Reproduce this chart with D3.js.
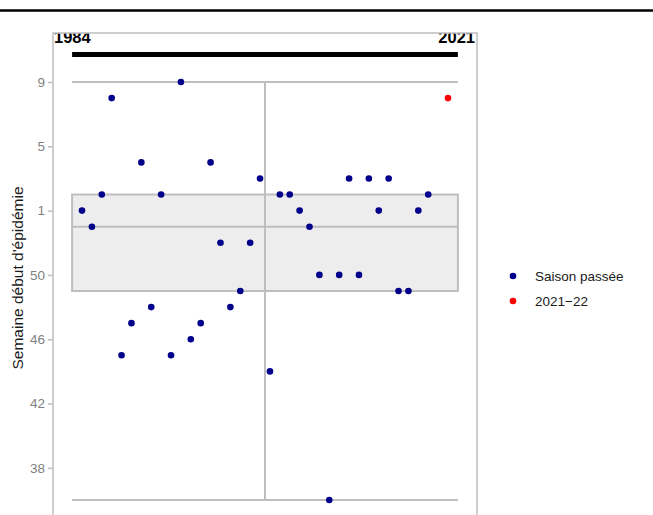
<!DOCTYPE html>
<html>
<head>
<meta charset="utf-8">
<script src="https://cdn.jsdelivr.net/npm/d3@7"></script>
<style>
  body { margin: 0; background: #fff; }
  text { font-family: "Liberation Sans", Arial, sans-serif; }
</style>
</head>
<body>
<div id="chart"></div>
<script>
// past seasons: year and start week (index: weeks after 53 are 54 = week 1, 55 = week 2 ...)
const years = [1984, 1985, 1986, 1987, 1988, 1989, 1990, 1991, 1992, 1993,
    1994, 1995, 1996, 1997, 1998, 1999, 2000, 2001, 2002, 2003,
    2004, 2005, 2006, 2007, 2008, 2009, 2010, 2011, 2012, 2013,
    2014, 2015, 2016, 2017, 2018, 2019];
const weeks = [54, 53, 55, 61, 45, 47, 57, 48, 55, 45,
    62, 46, 47, 57, 52, 48, 49, 52, 56, 44,
    55, 55, 54, 53, 50, 36, 50, 56, 50, 56,
    54, 56, 49, 49, 54, 55];

// current season
const currentYear = [2021];
const currentWeek = [61];

// box: min, q1, median, q3, max
const boxStats = [36, 49, 53, 55, 62];

const yTicks = [38, 42, 46, 50, 54, 58, 62];
const yTickLabels = ["38", "42", "46", "50", "1", "5", "9"];

const legendLabels = ["Saison passée", "2021\u221222"];
const legendColors = ["#00008B", "#FF0000"];

const width = 653, height = 515;
const panel = { left: 53, right: 477, top: 33, bottom: 520 };

const svg = d3.select("#chart").append("svg")
    .attr("width", width)
    .attr("height", height);

const x = d3.scaleLinear().domain([1984, 2021]).range([82, 448]);
const y = d3.scaleLinear().domain([36, 62]).range([500, 82]);

// top rule
svg.append("line")
    .attr("x1", 0).attr("x2", width)
    .attr("y1", 10.5).attr("y2", 10.5)
    .attr("stroke", "#000").attr("stroke-width", 2.5);

svg.append("clipPath").attr("id", "clip")
    .append("rect")
    .attr("x", panel.left).attr("y", panel.top)
    .attr("width", panel.right - panel.left)
    .attr("height", panel.bottom - panel.top);

const g = svg.append("g").attr("clip-path", "url(#clip)");

const grey = "#BEBEBE";

// whisker line
g.append("line")
    .attr("x1", x(2002.5)).attr("x2", x(2002.5))
    .attr("y1", y(boxStats[4])).attr("y2", y(boxStats[0]))
    .attr("stroke", grey).attr("stroke-width", 2);

// caps
[boxStats[0], boxStats[4]].forEach(v => {
    g.append("line")
        .attr("x1", x(1983)).attr("x2", x(2022))
        .attr("y1", y(v)).attr("y2", y(v))
        .attr("stroke", grey).attr("stroke-width", 2);
});

// box
g.append("rect")
    .attr("x", x(1983))
    .attr("y", y(boxStats[3]))
    .attr("width", x(2022) - x(1983))
    .attr("height", y(boxStats[1]) - y(boxStats[3]))
    .attr("fill", "#EBEBEB")
    .attr("fill-opacity", 0.92)
    .attr("stroke", grey).attr("stroke-width", 2);

// whisker visible through the box
g.append("line")
    .attr("x1", x(2002.5)).attr("x2", x(2002.5))
    .attr("y1", y(boxStats[3])).attr("y2", y(boxStats[1]))
    .attr("stroke", grey).attr("stroke-width", 2);

// median
g.append("line")
    .attr("x1", x(1983)).attr("x2", x(2022))
    .attr("y1", y(boxStats[2])).attr("y2", y(boxStats[2]))
    .attr("stroke", grey).attr("stroke-width", 2);

// period bar
g.append("line")
    .attr("x1", x(1983)).attr("x2", x(2022))
    .attr("y1", 54.5).attr("y2", 54.5)
    .attr("stroke", "#000").attr("stroke-width", 5);

// year labels, top clipped by the panel like the original
g.append("text")
    .attr("x", panel.left + 1).attr("y", 42.5)
    .style("font-size", "16.5px")
    .style("font-weight", "bold")
    .attr("fill", "#000")
    .text(years[0]);

g.append("text")
    .attr("x", panel.right - 2).attr("y", 42.5)
    .attr("text-anchor", "end")
    .style("font-size", "16.5px")
    .style("font-weight", "bold")
    .attr("fill", "#000")
    .text(currentYear[0]);

// points
g.selectAll(".past")
    .data(years)
    .enter().append("circle")
    .attr("cx", d => x(d))
    .attr("cy", (d, i) => y(weeks[i]))
    .attr("r", 3.3)
    .attr("fill", legendColors[0]);

g.selectAll(".current")
    .data(currentYear)
    .enter().append("circle")
    .attr("cx", d => x(d))
    .attr("cy", (d, i) => y(currentWeek[i]))
    .attr("r", 3.3)
    .attr("fill", legendColors[1]);

// panel border (left, top, right)
svg.append("path")
    .attr("d", `M${panel.left},${height}V${panel.top}H${panel.right}V${height}`)
    .attr("fill", "none")
    .attr("stroke", grey).attr("stroke-width", 1.5);

// y axis
const yAxis = svg.append("g")
    .attr("transform", `translate(${panel.left},0)`)
    .call(d3.axisLeft(y).tickValues(yTicks).tickFormat((d, i) => yTickLabels[i]).tickSize(5).tickPadding(3));
yAxis.select(".domain").remove();
yAxis.selectAll("line").attr("stroke", grey).attr("stroke-width", 1.5);
yAxis.selectAll("text")
    .attr("fill", "#7F7F7F")
    .style("font-size", "13.5px")
    .style("font-family", "Liberation Sans, Arial, sans-serif");

svg.append("text")
    .attr("transform", "translate(23,278) rotate(-90)")
    .attr("text-anchor", "middle")
    .style("font-size", "15.5px")
    .attr("fill", "#1a1a1a")
    .text("Semaine début d'épidémie");

// legend
const legend = svg.append("g");
legendLabels.forEach((label, i) => {
    legend.append("circle")
        .attr("cx", 513).attr("cy", 276 + i * 25)
        .attr("r", 3.3)
        .attr("fill", legendColors[i]);
    legend.append("text")
        .attr("x", 535).attr("y", 276 + i * 25 + 5)
        .style("font-size", "13.5px")
        .attr("fill", "#1a1a1a")
        .text(label);
});
</script>
</body>
</html>
